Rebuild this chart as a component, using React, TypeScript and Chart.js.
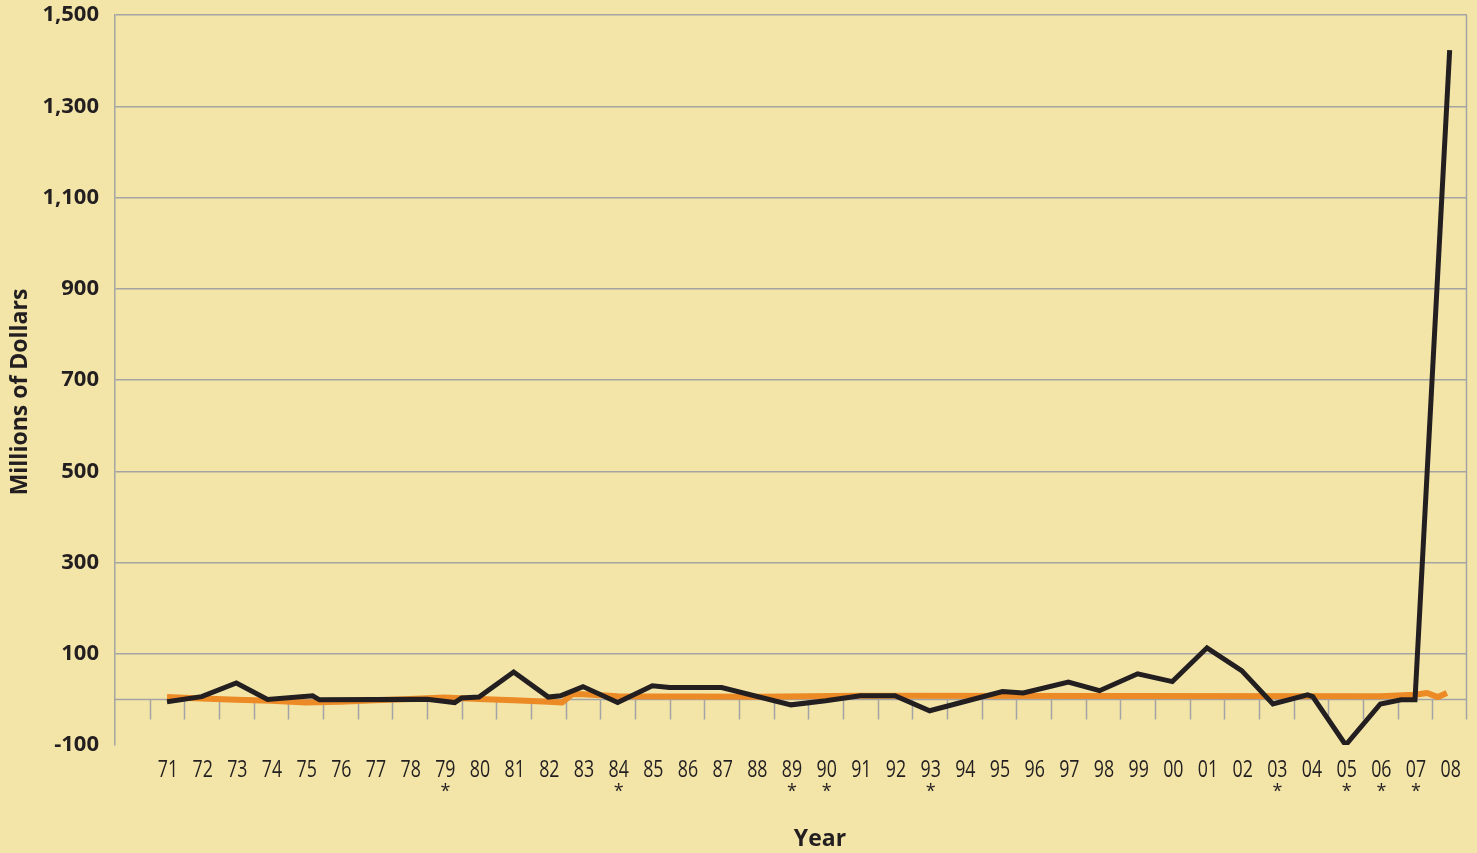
import React, { useEffect, useRef } from "react";
import { Chart, registerables } from "chart.js";

Chart.register(...registerables);

// ---- data ----
const YEAR_LABELS = ["71", "72", "73", "74", "75", "76", "77", "78", "79", "80", "81", "82", "83", "84", "85", "86", "87", "88", "89", "90", "91", "92", "93", "94", "95", "96", "97", "98", "99", "00", "01", "02", "03", "04", "05", "06", "07", "08"];
const YEAR_POS = [71, 72, 73, 74, 75, 76, 77, 78, 79, 80, 81, 82, 83, 84, 85, 86, 87, 88, 89, 90, 91, 92, 93, 94, 95, 96, 97, 98, 99, 100, 101, 102, 103, 104, 105, 106, 107, 108];
const STARRED = ["79", "84", "89", "90", "93", "03", "05", "06", "07"];
const TICK_BOUNDS = [70.5, 71.5, 72.5, 73.5, 74.5, 75.5, 76.5, 77.5, 78.5, 79.5, 80.5, 81.5, 82.5, 83.5, 84.5, 85.5, 86.5, 87.5, 88.5, 89.5, 90.5, 91.5, 92.5, 93.5, 94.5, 95.5, 96.5, 97.5, 98.5, 99.5, 100.5, 101.5, 102.5, 103.5, 104.5, 105.5, 106.5, 107.5];

const BLACK_X = [71, 72, 73, 73.9, 75.2, 75.4, 78.5, 79.3, 79.5, 80, 81, 82, 82.35, 83, 84, 85, 85.5, 87, 89, 90, 91, 92, 93, 95.1, 95.7, 97, 97.9, 99, 100, 101, 102, 102.9, 103.9, 104.05, 105, 106, 106.6, 107, 108];
const BLACK_Y = [-5, 6, 36, 0, 8, -1, 0, -7, 3, 5, 60, 5, 8, 28, -7, 30, 26, 26, -12, -3, 8, 8, -25, 17, 14, 38, 19, 56, 39, 113, 63, -10, 10, 6, -100, -10, -1, -1, 1423];

const ORANGE_X = [71, 72, 73, 74, 75, 76, 77, 78, 79, 80, 81, 82, 82.4, 82.7, 83, 84, 88, 91, 106, 107, 107.35, 107.66, 107.92];
const ORANGE_Y = [5, 2, -1, -3, -7, -5, -2, 1, 4, 1, -2, -5, -7, 12, 11, 7, 6, 8, 7, 10, 14, 5, 14];

const Y_MIN = -100;
const Y_MAX = 1500;
const Y_STEP = 200;

const BG = "#f3e5a8";
const GRID = "#a4a4a4";
const TEXT = "#231f20";
const BLACK = "#231f20";
const ORANGE = "#ec8a26";

const decorPlugin = {
  id: "decor",
  beforeDatasetsDraw(chart: any) {
    const { ctx, chartArea, scales } = chart;
    const x = scales.x;
    const y = scales.y;
    const y0 = Math.round(y.getPixelForValue(0)) + 0.5;
    ctx.save();
    ctx.strokeStyle = GRID;
    ctx.lineWidth = 1.5;
    ctx.beginPath();
    ctx.moveTo(chartArea.left, y0);
    ctx.lineTo(chartArea.right, y0);
    for (const b of TICK_BOUNDS) {
      const px = Math.round(x.getPixelForValue(b)) + 0.5;
      ctx.moveTo(px, y0);
      ctx.lineTo(px, y0 + 20);
    }
    const rx = Math.round(chartArea.right) - 0.5;
    ctx.moveTo(rx, chartArea.top);
    ctx.lineTo(rx, y0 + 20);
    ctx.stroke();
    ctx.restore();
  },
  afterDraw(chart: any) {
    const { ctx, scales } = chart;
    const x = scales.x;
    ctx.save();
    ctx.fillStyle = TEXT;
    ctx.textAlign = "center";
    ctx.textBaseline = "alphabetic";
    YEAR_POS.forEach((v, i) => {
      const px = x.getPixelForValue(v);
      ctx.save();
      ctx.translate(px + 1, 777);
      ctx.scale(0.74, 1);
      ctx.font = '24px "Open Sans"';
      ctx.fillText(YEAR_LABELS[i], 0, 0);
      ctx.restore();
      if (STARRED.includes(YEAR_LABELS[i])) {
        ctx.font = '18px "Open Sans"';
        ctx.fillText("*", px + 1, 797);
      }
    });
    // axis titles
    ctx.font = 'bold 23px "Open Sans"';
    ctx.fillText("Year", 820, 846);
    ctx.save();
    ctx.translate(20, 392);
    ctx.rotate(-Math.PI / 2);
    ctx.textBaseline = "middle";
    ctx.font = 'bold 23px "Open Sans"';
    ctx.fillText("Millions of Dollars", 0, 0);
    ctx.restore();
    ctx.restore();
  },
};

export default function App() {
  const ref = useRef<HTMLCanvasElement | null>(null);

  useEffect(() => {
    document.body.style.margin = "0";
    document.body.style.background = BG;
    const canvas = ref.current;
    if (!canvas) return;
    const chart = new Chart(canvas, {
      type: "line",
      data: {
        datasets: [
          {
            label: "Black",
            data: BLACK_X.map((xv, i) => ({ x: xv, y: BLACK_Y[i] })),
            borderColor: BLACK,
            borderWidth: 5,
            pointRadius: 0,
            tension: 0,
            borderJoinStyle: "miter",
            borderCapStyle: "butt",
            fill: false,
          },
          {
            label: "Orange",
            data: ORANGE_X.map((xv, i) => ({ x: xv, y: ORANGE_Y[i] })),
            borderColor: ORANGE,
            borderWidth: 6,
            pointRadius: 0,
            tension: 0,
            borderJoinStyle: "round",
            fill: false,
          },
        ],
      },
      options: {
        animation: false,
        responsive: true,
        maintainAspectRatio: false,
        layout: { padding: { top: 15, right: 10, left: 0, bottom: 0 } },
        plugins: {
          legend: { display: false },
          tooltip: { enabled: false },
        },
        scales: {
          x: {
            type: "linear",
            min: 69.5,
            max: 108.5,
            grid: { display: false },
            border: { display: false },
            ticks: { display: false },
            afterFit: (s: any) => {
              s.height = 108;
            },
          },
          y: {
            min: Y_MIN,
            max: Y_MAX,
            ticks: {
              stepSize: Y_STEP,
              color: TEXT,
              padding: 16,
              font: { family: "Open Sans", weight: "bold", size: 22 },
              callback: (v: any) => Number(v).toLocaleString("en-US"),
            },
            grid: {
              drawTicks: false,
              lineWidth: 1.5,
              color: (c: any) => (c.tick && c.tick.value === Y_MIN ? "rgba(0,0,0,0)" : GRID),
            },
            border: { display: true, color: GRID, width: 1.5 },
            afterFit: (s: any) => {
              s.width = 115;
              s.paddingTop = 0;
              s.paddingBottom = 0;
            },
          },
        },
      },
      plugins: [decorPlugin],
    });
    return () => chart.destroy();
  }, []);

  return (
    <div style={{ width: 1477, height: 853, background: BG, position: "relative" }}>
      <canvas ref={ref} />
    </div>
  );
}
